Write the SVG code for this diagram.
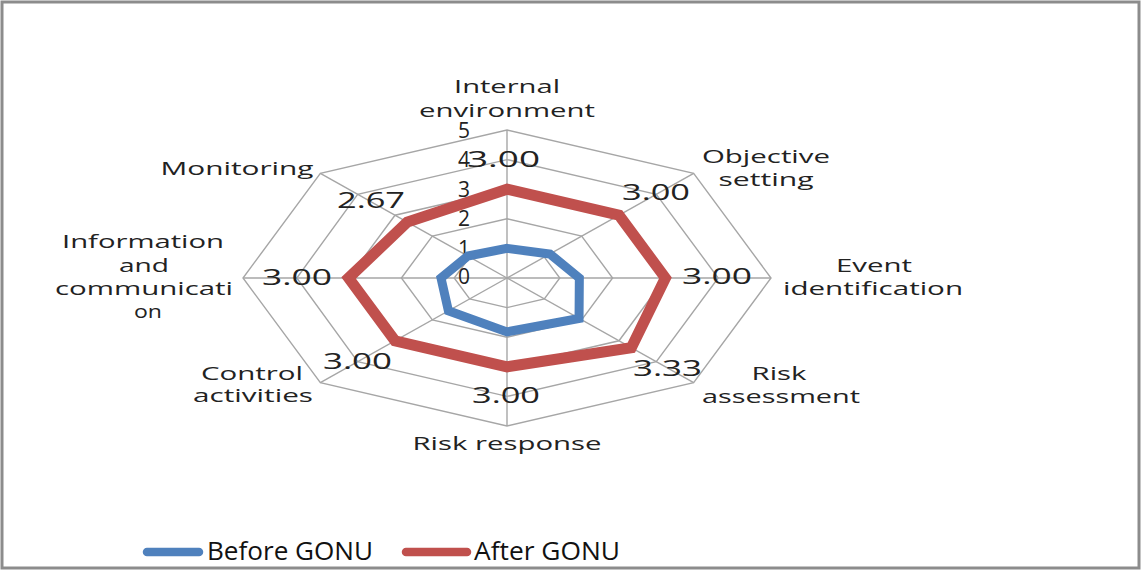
<svg xmlns="http://www.w3.org/2000/svg" width="1142" height="571" viewBox="0 0 1142 571">
<style>
.grid{fill:none;stroke:#a6a6a6;stroke-width:1.4}
.spoke{stroke:#a6a6a6;stroke-width:1.4}
.cat{font-family:"Open Sans",sans-serif;font-size:17.5px;fill:#222;text-anchor:middle}
.tick{font-family:"Open Sans",sans-serif;font-size:21px;fill:#222;text-anchor:end}
.dl{font-family:"Open Sans",sans-serif;font-size:21px;fill:#222}
.leg{font-family:"Open Sans",sans-serif;font-size:25px;fill:#111}
.before{fill:none;stroke:#4f81bd;stroke-width:9;stroke-linejoin:miter}
.after{fill:none;stroke:#c0504d;stroke-width:11;stroke-linejoin:miter}
</style>
<rect x="2" y="2" width="1137" height="566" fill="#fff" stroke="#8c8c8c" stroke-width="3"/>
<g id="grid">
<polygon class="grid" points="507,248.4 544.33,257.07 559.8,278 544.33,298.93 507,307.6 469.67,298.93 454.2,278 469.67,257.07"/>
<polygon class="grid" points="507,218.8 581.66,236.14 612.6,278 581.66,319.86 507,337.2 432.34,319.86 401.4,278 432.34,236.14"/>
<polygon class="grid" points="507,189.2 618.99,215.21 665.4,278 618.99,340.79 507,366.8 395.01,340.79 348.6,278 395.01,215.21"/>
<polygon class="grid" points="507,159.6 656.32,194.28 718.2,278 656.32,361.72 507,396.4 357.68,361.72 296.8,278 357.68,194.28"/>
<polygon class="grid" points="507,130 693.65,173.35 771,278 693.65,382.65 507,426 320.35,382.65 243,278 320.35,173.35"/>
<line class="spoke" x1="507" y1="278" x2="507" y2="130"/>
<line class="spoke" x1="507" y1="278" x2="693.65" y2="173.35"/>
<line class="spoke" x1="507" y1="278" x2="771" y2="278"/>
<line class="spoke" x1="507" y1="278" x2="693.65" y2="382.65"/>
<line class="spoke" x1="507" y1="278" x2="507" y2="426"/>
<line class="spoke" x1="507" y1="278" x2="320.35" y2="382.65"/>
<line class="spoke" x1="507" y1="278" x2="243" y2="278"/>
<line class="spoke" x1="507" y1="278" x2="320.35" y2="173.35"/>
</g>
<g id="ticks">
<text class="tick" x="470" y="138" font-size="21">5</text>
<text class="tick" x="470" y="167" font-size="21">4</text>
<text class="tick" x="470" y="197" font-size="21">3</text>
<text class="tick" x="470" y="226" font-size="21">2</text>
<text class="tick" x="470" y="256" font-size="21">1</text>
<text class="tick" x="470" y="284" font-size="21">0</text>
</g>
<g id="series">
<polygon id="before-gonu" class="before" points="507,248.4 549.93,253.93 579.34,278 579.05,318.39 507,331.87 448.39,310.86 441,278 467.8,256.02"/>
<polygon id="after-gonu" class="after" points="507,189.2 618.99,215.21 665.4,278 631.31,347.7 507,366.8 395.01,340.79 348.6,278 407.33,222.12"/>
</g>
<g id="data-labels">
<text class="dl" x="467" y="167" textLength="73" lengthAdjust="spacingAndGlyphs">3.00</text>
<text class="dl" x="622" y="200" textLength="68" lengthAdjust="spacingAndGlyphs">3.00</text>
<text class="dl" x="682" y="284" textLength="70" lengthAdjust="spacingAndGlyphs">3.00</text>
<text class="dl" x="633" y="376" textLength="69" lengthAdjust="spacingAndGlyphs">3.33</text>
<text class="dl" x="472" y="403" textLength="68" lengthAdjust="spacingAndGlyphs">3.00</text>
<text class="dl" x="323" y="369" textLength="69" lengthAdjust="spacingAndGlyphs">3.00</text>
<text class="dl" x="262" y="285" textLength="70" lengthAdjust="spacingAndGlyphs">3.00</text>
<text class="dl" x="337" y="208" textLength="68" lengthAdjust="spacingAndGlyphs">2.67</text>
</g>
<g id="node-internal-environment">
<text class="cat" x="507" y="93" textLength="106" lengthAdjust="spacingAndGlyphs">Internal</text>
<text class="cat" x="507" y="117" textLength="176" lengthAdjust="spacingAndGlyphs">environment</text>
</g>
<g id="node-objective-setting">
<text class="cat" x="766" y="163" textLength="128" lengthAdjust="spacingAndGlyphs">Objective</text>
<text class="cat" x="766" y="186" textLength="95" lengthAdjust="spacingAndGlyphs">setting</text>
</g>
<g id="node-event-identification">
<text class="cat" x="874" y="272" textLength="76" lengthAdjust="spacingAndGlyphs">Event</text>
<text class="cat" x="873" y="295" textLength="180" lengthAdjust="spacingAndGlyphs">identification</text>
</g>
<g id="node-risk-assessment">
<text class="cat" x="779" y="380" textLength="55" lengthAdjust="spacingAndGlyphs">Risk</text>
<text class="cat" x="781" y="403" textLength="158" lengthAdjust="spacingAndGlyphs">assessment</text>
</g>
<g id="node-risk-response">
<text class="cat" x="507" y="450" textLength="189" lengthAdjust="spacingAndGlyphs">Risk response</text>
</g>
<g id="node-control-activities">
<text class="cat" x="252" y="380" textLength="102" lengthAdjust="spacingAndGlyphs">Control</text>
<text class="cat" x="253" y="402" textLength="120" lengthAdjust="spacingAndGlyphs">activities</text>
</g>
<g id="node-information-communication">
<text class="cat" x="143" y="248" textLength="162" lengthAdjust="spacingAndGlyphs">Information</text>
<text class="cat" x="144" y="272" textLength="50" lengthAdjust="spacingAndGlyphs">and</text>
<text class="cat" x="144" y="295" textLength="178" lengthAdjust="spacingAndGlyphs">communicati</text>
<text class="cat" x="148" y="318" textLength="28" lengthAdjust="spacingAndGlyphs">on</text>
</g>
<g id="node-monitoring">
<text class="cat" x="237" y="175" textLength="153" lengthAdjust="spacingAndGlyphs">Monitoring</text>
</g>
<g id="legend">
<line x1="147" y1="552" x2="199" y2="552" stroke="#4f81bd" stroke-width="8.5" stroke-linecap="round"/>
<text class="leg" x="207" y="560" textLength="166" lengthAdjust="spacingAndGlyphs">Before GONU</text>
<line x1="406" y1="552" x2="467" y2="552" stroke="#c0504d" stroke-width="8.5" stroke-linecap="round"/>
<text class="leg" x="474" y="560" textLength="146" lengthAdjust="spacingAndGlyphs">After GONU</text>
</g>
</svg>
